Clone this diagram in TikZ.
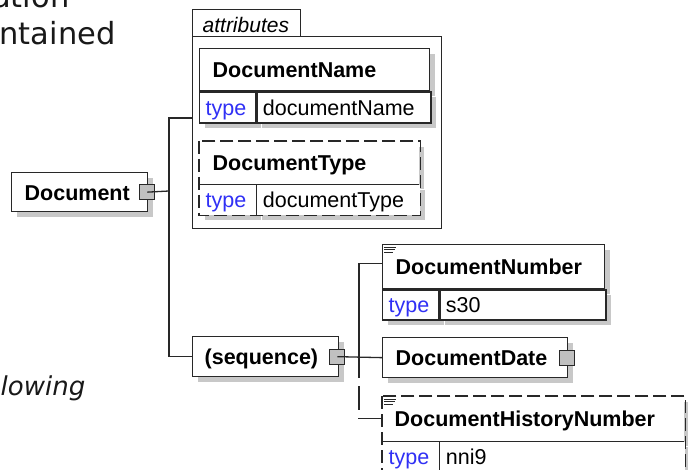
\documentclass[tikz,border=0pt]{standalone}
\usepackage{fontspec}
\setmainfont{Liberation Sans}
\newfontfamily\pagefont{DejaVu Sans}
\usetikzlibrary{shadows, positioning}
\definecolor{typeblue}{RGB}{48,48,245}
\definecolor{linegray}{RGB}{40,40,40}
\definecolor{shadowgray}{RGB}{200,200,200}
\definecolor{buttongray}{RGB}{192,192,192}

\begin{document}
\begin{tikzpicture}[x=1pt,y=-1pt,color=linegray,line width=1.3pt,
        box shadow/.style={drop shadow={shadow xshift=5pt,shadow yshift=-5pt,fill=shadowgray,opacity=1}},
        name node/.style={box shadow,fill=white,anchor=north west,inner xsep=13pt,inner ysep=0pt,
            align=left,text height=16pt,text depth=0pt,text=black,
            font=\fontsize{21.5pt}{24pt}\selectfont\bfseries},
        cell node/.style={box shadow,fill=white,anchor=north west,inner xsep=6pt,inner ysep=0pt,
            align=left,text height=16pt,text depth=0pt,minimum height=30pt,text=black,
            font=\fontsize{21.5pt}{24pt}\selectfont},
        type node/.style={cell node,text=typeblue,text width=44pt},
        tab node/.style={draw,anchor=north west,minimum height=27pt,inner xsep=10pt,inner ysep=0pt,
            text width=88pt,align=left,text height=19pt,text depth=0pt,text=black,
            font=\fontsize{21pt}{24pt}\selectfont\itshape},
        button/.style={draw,fill=buttongray,minimum size=15pt,inner sep=0pt},
        opt line/.style={dash pattern=on 13pt off 5pt},
        link/.style={line width=1.3pt},
        page text/.style={inner sep=0pt,text=black!90,font=\pagefont\fontsize{30.5pt}{36pt}\selectfont}]

    \useasboundingbox[fill=white] (0,0) rectangle (688,470);

    % text of the page round the figure
    \node[page text,anchor=base east] (paraA) at (70,8) {ation};
    \node[page text,anchor=base west] (paraB) at (-1,45) {ntained};
    \node[page text,anchor=base east,font=\pagefont\fontsize{26pt}{32pt}\selectfont\itshape] (paraC) at (86,395) {lowing};

    % root element
    \node[name node,draw,text width=110pt,minimum height=39pt] (doc) at (11,172) {Document};
    \node[button] (docsq) at ([xshift=-1pt]doc.east) {};

    % attributes
    \node[tab node] (attrtab) at (192,9) {attributes};
    \node[draw,anchor=north west,minimum width=249pt,minimum height=192pt,inner sep=0pt] (attrs) at (192,36) {};

    \node[name node,draw,text width=204pt,minimum height=42pt] (dname) at (199,48) {DocumentName};
    \node[type node,draw,minimum height=31pt] (dnamet) at (dname.south west) {type};
    \node[cell node,draw,text width=162pt,minimum height=31pt] (dnamev) at (dnamet.north east) {documentName};

    \node[name node,text width=193pt,minimum height=42pt] (dtype) at (199,141) {DocumentType};
    \node[type node] (dtypet) at (dtype.south west) {type};
    \node[cell node,text width=151pt] (dtypev) at (dtypet.north east) {documentType};
    \draw[opt line] (dtype.north west) rectangle (dtypev.south east);
    \draw (dtype.south west) -- (dtype.south east);
    \draw (dtypet.north east) -- (dtypet.south east);

    % sequence
    \node[name node,draw,inner xsep=12pt,text width=122pt,minimum height=40pt] (seq) at (192,336) {(sequence)};
    \node[button] (seqsq) at ([xshift=-2pt]seq.east) {};

    \node[name node,draw,text width=196pt,minimum height=44pt] (dnum) at (382,244) {DocumentNumber};
    \node[type node,draw] (dnumt) at (dnum.south west) {type};
    \node[cell node,draw,text width=154pt] (dnumv) at (dnumt.north east) {s30};
    \foreach \k/\l in {0/12,1/11,2/9}
        \draw[line width=0.9pt] ([shift={(2,3+2.5*\k)}]dnum.north west) -- ++(\l,0);

    \node[name node,draw,text width=159pt,minimum height=40pt] (ddate) at (382,337) {DocumentDate};
    \node[button] (ddatesq) at ([xshift=-1pt]ddate.east) {};

    \node[name node,inner xsep=12pt,text width=277pt,minimum height=44pt] (dhist) at (382,396) {DocumentHistoryNumber};
    \node[type node] (dhistt) at (dhist.south west) {type};
    \node[cell node,text width=233pt] (dhistv) at (dhistt.north east) {nni9};
    \draw[opt line] (dhist.north west) rectangle ([yshift=-5pt]dhistv.south east);
    \draw (dhist.south west) -- (dhist.south east);
    \draw (dhistt.north east) -- ([yshift=-5pt]dhistt.south east);
    \foreach \k/\l in {0/12,1/11,2/9}
        \draw[line width=0.9pt] ([shift={(2,3+2.5*\k)}]dhist.north west) -- ++(\l,0);

    % connectors
    \coordinate (docfork) at (169,191);
    \coordinate (attrin) at (192,118);
    \coordinate (seqfork) at (359,0);
    \draw[link] (docsq.center) -- (docfork);
    \draw[link] (attrin) -| (docfork) |- (seq.west);
    \draw[link] (seqsq.center) -- (ddate.west);
    \draw[link] ([yshift=3pt]dnum.west) -| (seqfork |- ddate.south);
    \draw[link,dash pattern=on 24pt off 8pt,dash phase=24pt] (seqfork |- ddate.south) |- (dhist.west);

\end{tikzpicture}
\end{document}
